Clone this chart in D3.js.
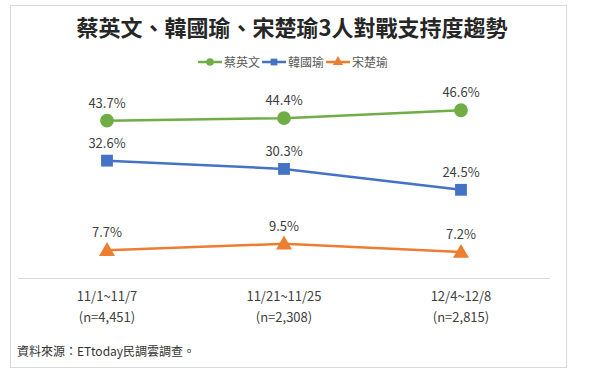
<!DOCTYPE html>
<html><head><meta charset="utf-8">
<script src="https://cdn.jsdelivr.net/npm/d3@7"></script>
<style>
html,body{margin:0;padding:0;background:#fff;}
svg{display:block;font-family:"Noto Sans CJK TC","Noto Sans",sans-serif;}
</style></head>
<body><svg id="c" width="595" height="377"></svg>
<script>
const title = "蔡英文、韓國瑜、宋楚瑜3人對戰支持度趨勢";
const categories = ["11/1~11/7", "11/21~11/25", "12/4~12/8"];
const sampleLabels = ["(n=4,451)", "(n=2,308)", "(n=2,815)"];
const seriesNames = ["蔡英文", "韓國瑜", "宋楚瑜"];
const tsai = [43.7, 44.4, 46.6];
const han = [32.6, 30.3, 24.5];
const soong = [7.7, 9.5, 7.2];
const colors = ["#70AD47", "#4472C4", "#ED7D31"];
const markers = ["circle", "square", "triangle"];
const source = "資料來源：ETtoday民調雲調查。";

const series = [tsai, han, soong];
const svg = d3.select("#c");

// page frame
svg.append("rect").attr("x",10.5).attr("y",5.5).attr("width",556).attr("height",362)
  .attr("fill","#fff").attr("stroke","#d9d9d9");

const x = d3.scalePoint().domain(categories).range([107, 461]);
const y = d3.scaleLinear().domain([0, 50]).range([278, 98]);

svg.append("text").attr("x",292).attr("y",36).attr("text-anchor","middle")
  .attr("font-size",22).attr("font-weight","bold").attr("fill","#262626").text(title);

function symbolFor(m){
  if(m==="circle") return d3.symbol().type(d3.symbolCircle).size(150)();
  if(m==="square") return d3.symbol().type(d3.symbolSquare).size(140)();
  return d3.symbol().type(d3.symbolTriangle).size(110)();
}

// legend
const legendX = [198, 262, 326];
seriesNames.forEach((n,i)=>{
  const g = svg.append("g").attr("transform",`translate(${legendX[i]},62)`);
  g.append("line").attr("x1",0).attr("x2",24).attr("stroke",colors[i]).attr("stroke-width",2.5);
  g.append("path").attr("d", d3.symbol().type([d3.symbolCircle,d3.symbolSquare,d3.symbolTriangle][i]).size(45)())
    .attr("transform","translate(12,0)").attr("fill",colors[i]);
  g.append("text").attr("x",26).attr("y",4.5).attr("font-size",12).attr("fill","#595959").text(n);
});

// axis
const axis = d3.axisBottom(x).tickSize(0).tickFormat(()=>"");
const ax = svg.append("g").attr("transform",`translate(0,${y(0)})`).call(axis);
ax.select(".domain").attr("d","M18,0.5H550").attr("stroke","#d9d9d9");
categories.forEach((c,i)=>{
  svg.append("text").attr("x",x(c)).attr("y",301).attr("text-anchor","middle")
    .attr("font-size",13).attr("fill","#404040").text(c);
  svg.append("text").attr("x",x(c)).attr("y",322).attr("text-anchor","middle")
    .attr("font-size",13).attr("fill","#404040").text(sampleLabels[i]);
});

const line = d3.line().x((d,i)=>x(categories[i])).y(d=>y(d));
series.forEach((s,si)=>{
  svg.append("path").datum(s).attr("d",line).attr("fill","none")
    .attr("stroke",colors[si]).attr("stroke-width",2.5);
  s.forEach((v,i)=>{
    svg.append("path").attr("d",symbolFor(markers[si]))
      .attr("transform",`translate(${x(categories[i])},${y(v)+(si===2?1:0)})`).attr("fill",colors[si]);
    svg.append("text").attr("x",x(categories[i])).attr("y",y(v)-13)
      .attr("text-anchor","middle").attr("font-size",13).attr("fill","#404040")
      .text(v.toFixed(1)+"%");
  });
});

svg.append("text").attr("x",17).attr("y",356).attr("font-size",12).attr("fill","#333").text(source);
</script></body></html>
